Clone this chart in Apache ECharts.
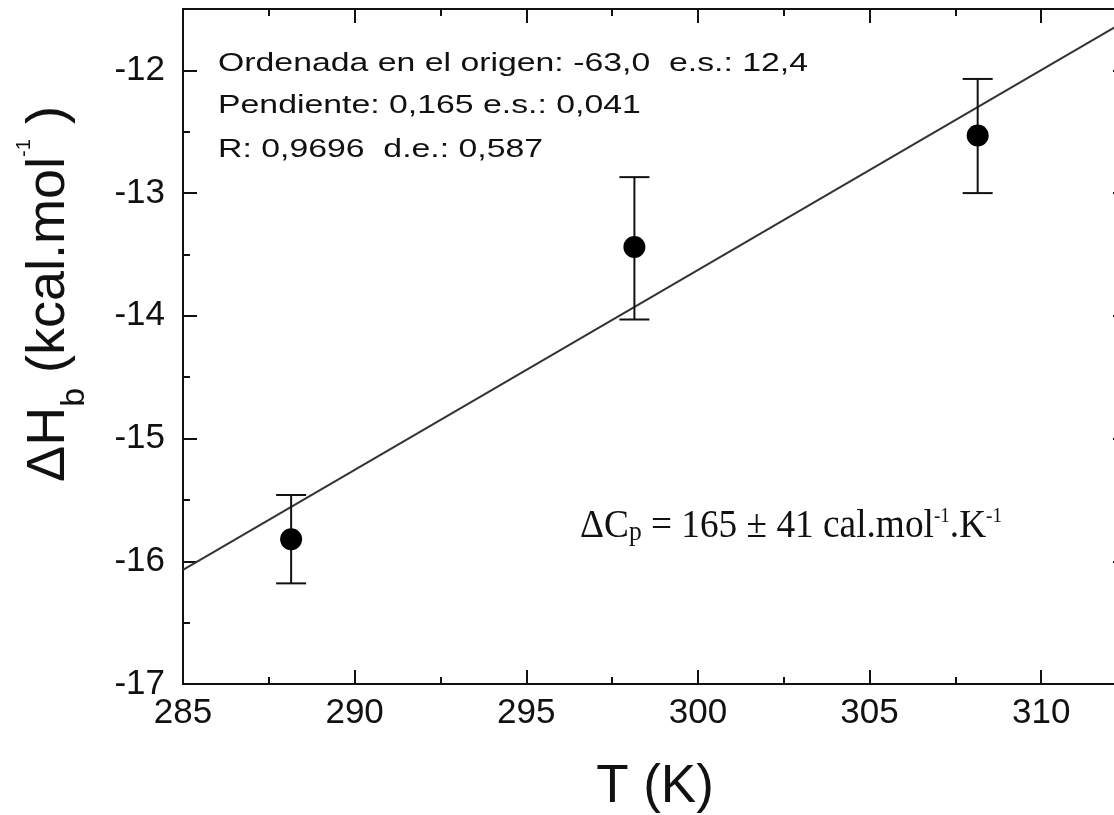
<!DOCTYPE html>
<html>
<head>
<meta charset="utf-8">
<title>dH vs T</title>
<script src="https://cdn.jsdelivr.net/npm/echarts@6/dist/echarts.min.js"></script>
<style>
  html, body { margin: 0; padding: 0; background: #fff; overflow: hidden; }
  #chart { width: 1140px; height: 815px; }
</style>
</head>
<body>
<div id="chart"></div>
<script>
// puntos experimentales (T en K, dH en kcal/mol)
var temps = [288.15, 298.15, 308.15];
var dH = [-15.82, -13.44, -12.53];
var errLow = [-16.18, -14.03, -13.00];
var errHigh = [-15.46, -12.87, -12.07];

// recta de ajuste
var fitT = [285, 312.5];
var fitH = [-16.07, -11.59];

// textos del ajuste
var fitLines = [
    'Ordenada en el origen: -63,0  e.s.: 12,4',
    'Pendiente: 0,165 e.s.: 0,041',
    'R: 0,9696  d.e.: 0,587'
];

var chart = echarts.init(document.getElementById('chart'));

var ink = '#111';
var sans = '"Liberation Sans", Arial, sans-serif';
var serif = '"Liberation Serif", "Times New Roman", serif';

function majorAxis(pos, isX, labels) {
    var ax = {
        type: 'value',
        position: pos,
        axisLine: { show: true, onZero: false, lineStyle: { color: ink, width: 2 } },
        axisTick: { show: true, inside: true, length: 14, lineStyle: { color: ink, width: 2 } },
        axisLabel: { show: labels },
        splitLine: { show: false }
    };
    if (isX) { ax.min = 285; ax.max = 312.5; ax.interval = 5; }
    else { ax.min = -17; ax.max = -11.5; ax.interval = 1; }
    return ax;
}

// ejes auxiliares solo para las marcas menores
function minorAxis(pos, isX) {
    var ax = {
        type: 'value',
        position: pos,
        axisLine: { show: false, onZero: false },
        axisTick: { show: true, inside: true, length: 7, lineStyle: { color: ink, width: 2 } },
        axisLabel: { show: false },
        splitLine: { show: false }
    };
    if (isX) { ax.min = 285; ax.max = 312.5; ax.interval = 2.5; }
    else { ax.min = -17; ax.max = -11.5; ax.interval = 0.5; }
    return ax;
}

var xMain = majorAxis('bottom', true, true);
xMain.axisLabel = {
    show: true, margin: 12, fontSize: 35, fontFamily: sans, color: ink,
    formatter: function (v) { return v % 5 === 0 ? v : ''; }
};
xMain.name = 'T (K)';
xMain.nameLocation = 'middle';
xMain.nameGap = 77;
xMain.nameTextStyle = { fontSize: 53, fontFamily: sans, color: ink };

var yMain = majorAxis('left', false, true);
yMain.axisLabel = {
    show: true, margin: 18, fontSize: 35, fontFamily: sans, color: ink,
    formatter: function (v) { return Number.isInteger(v) ? v : ''; }
};

var barData = [];
for (var i = 0; i < temps.length; i++) {
    barData.push([temps[i], errLow[i], errHigh[i]]);
}

var option = {
    backgroundColor: '#fff',
    animation: false,
    grid: { left: 183, top: 9, width: 944, height: 675, containLabel: false, outerBoundsMode: 'none' },
    xAxis: [xMain, minorAxis('bottom', true), majorAxis('top', true, false), minorAxis('top', true)],
    yAxis: [yMain, minorAxis('left', false), majorAxis('right', false, false), minorAxis('right', false)],
    graphic: [
        {
            type: 'text', x: 49, y: 294, rotation: Math.PI / 2,
            style: {
                text: '{m|ΔH}{b|b}{m| (kcal.mol}{s|-1}{m| )}',
                align: 'center', verticalAlign: 'middle',
                fill: ink,
                rich: {
                    m: { fontSize: 54, fontFamily: sans, lineHeight: 86, verticalAlign: 'middle', fill: ink },
                    b: { fontSize: 34, fontFamily: sans, lineHeight: 34, verticalAlign: 'bottom', fill: ink },
                    s: { fontSize: 20, fontFamily: sans, verticalAlign: 'top', padding: [8, 0, 0, 0], fill: ink }
                }
            }
        },
        { type: 'text', x: 218, y: 64, scaleX: 1.3,
          style: { text: fitLines[0], font: '26px ' + sans, fill: ink, align: 'left', verticalAlign: 'middle' } },
        { type: 'text', x: 218, y: 106, scaleX: 1.3,
          style: { text: fitLines[1], font: '26px ' + sans, fill: ink, align: 'left', verticalAlign: 'middle' } },
        { type: 'text', x: 218, y: 150, scaleX: 1.3,
          style: { text: fitLines[2], font: '26px ' + sans, fill: ink, align: 'left', verticalAlign: 'middle' } },
        {
            type: 'text', x: 580, y: 526, scaleX: 0.91,
            style: {
                text: '{m|ΔC}{b|p}{m| = 165 ± 41 cal.mol}{s|-1}{m|.K}{s|-1}',
                align: 'left', verticalAlign: 'middle',
                fill: ink,
                rich: {
                    m: { fontSize: 41, fontFamily: serif, lineHeight: 41, verticalAlign: 'middle', fill: ink },
                    b: { fontSize: 28, fontFamily: serif, lineHeight: 26, verticalAlign: 'bottom', fill: ink },
                    s: { fontSize: 21, fontFamily: serif, lineHeight: 26, verticalAlign: 'top', fill: ink }
                }
            }
        }
    ],
    series: [
        {
            name: 'ajuste',
            type: 'line',
            data: fitT.map(function (t, k) { return [t, fitH[k]]; }),
            showSymbol: false,
            lineStyle: { color: '#333', width: 2 },
            z: 1
        },
        {
            name: 'error',
            type: 'custom',
            data: barData,
            encode: { x: 0, y: [1, 2] },
            renderItem: function (params, api) {
                var lo = api.coord([api.value(0), api.value(1)]);
                var hi = api.coord([api.value(0), api.value(2)]);
                var cap = 15;
                var st = { stroke: ink, lineWidth: 2 };
                return {
                    type: 'group',
                    children: [
                        { type: 'line', shape: { x1: lo[0], y1: lo[1], x2: hi[0], y2: hi[1] }, style: st },
                        { type: 'line', shape: { x1: lo[0] - cap, y1: lo[1], x2: lo[0] + cap, y2: lo[1] }, style: st },
                        { type: 'line', shape: { x1: hi[0] - cap, y1: hi[1], x2: hi[0] + cap, y2: hi[1] }, style: st }
                    ]
                };
            },
            z: 2
        },
        {
            name: 'dH',
            type: 'scatter',
            data: temps.map(function (t, k) { return [t, dH[k]]; }),
            symbol: 'circle',
            symbolSize: 22,
            itemStyle: { color: '#000', opacity: 1 },
            z: 3
        }
    ]
};

chart.setOption(option);
</script>
</body>
</html>
